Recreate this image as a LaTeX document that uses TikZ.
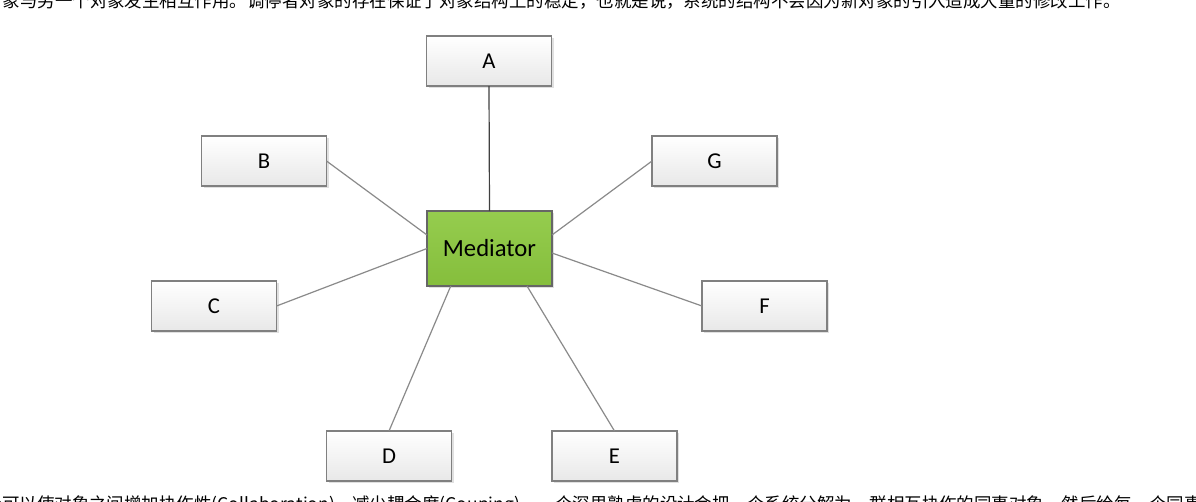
\documentclass[tikz,border=0pt]{standalone}
\usepackage{fontspec}
\setmainfont{Carlito}
\newfontfamily\cjk{Noto Sans CJK SC}
\usetikzlibrary{shadows,calc}
\definecolor{boxline}{HTML}{808080}
\definecolor{medgreen}{HTML}{8CC83F}
\definecolor{linkgray}{HTML}{8A8A8A}
\begin{document}
\begin{tikzpicture}[x=0.75pt,y=-0.75pt,
  colleague/.style={draw=boxline, line width=0.9pt, top color=white, bottom color=black!9,
    minimum width=93.75pt, minimum height=37.5pt, inner sep=0pt, outer sep=0pt,
    font=\fontsize{17}{19}\selectfont,
    drop shadow={shadow xshift=1.5pt, shadow yshift=-1.5pt, fill=black!30, opacity=0.4}},
  mediator/.style={colleague, top color=medgreen!92!white, bottom color=medgreen!95!black,
    draw=black!60, minimum height=56.25pt, font=\fontsize{18.5}{20}\selectfont},
  link/.style={draw=linkgray, line width=0.9pt},
  mainlink/.style={draw=black!75, line width=0.9pt},
  para/.style={font=\cjk\fontsize{13.1}{15}\selectfont, anchor=base west, inner sep=0pt}]
\useasboundingbox (0,0) rectangle (1196,501);
\fill[white] (0,0) rectangle (1196,501);
\begin{scope}
\clip (0,0) rectangle (1196,501);
\node[para] (toptext) at (-15,7) {对象与另一个对象发生相互作用。调停者对象的存在保证了对象结构上的稳定，也就是说，系统的结构不会因为新对象的引入造成大量的修改工作。};
\node[para] (bottomtext) at (-33,510) {设计可以使对象之间增加协作性(Collaboration)，减少耦合度(Couping)。一个深思熟虑的设计会把一个系统分解为一群相互协作的同事对象，然后给每一个同事对象以独特的责任，恰当的配置它们之间的协作关系。};
\end{scope}

\node[mediator] (M) at (489.5,248.5) {Mediator};
\node[colleague] (A) at (489,61) {A};
\node[colleague] (B) at (264,161) {B};
\node[colleague] (G) at (714.5,161) {G};
\node[colleague] (C) at (214,306) {C};
\node[colleague] (F) at (764.5,306) {F};
\node[colleague] (D) at (389,456) {D};
\node[colleague] (E) at (614.5,456) {E};

\draw[mainlink] (A.south) -- (M.north);
\draw[link] (B.east) -- ($(M.north west)!0.32!(M.south west)$);
\draw[link] (C.east) -- (M.west);
\draw[link] (G.west) -- ($(M.north east)!0.32!(M.south east)$);
\draw[link] (F.west) -- ($(M.north east)!0.56!(M.south east)$);
\draw[link] (D.north) -- ($(M.south west)!0.19!(M.south east)$);
\draw[link] (E.north) -- ($(M.south west)!0.8!(M.south east)$);
\end{tikzpicture}
\end{document}
